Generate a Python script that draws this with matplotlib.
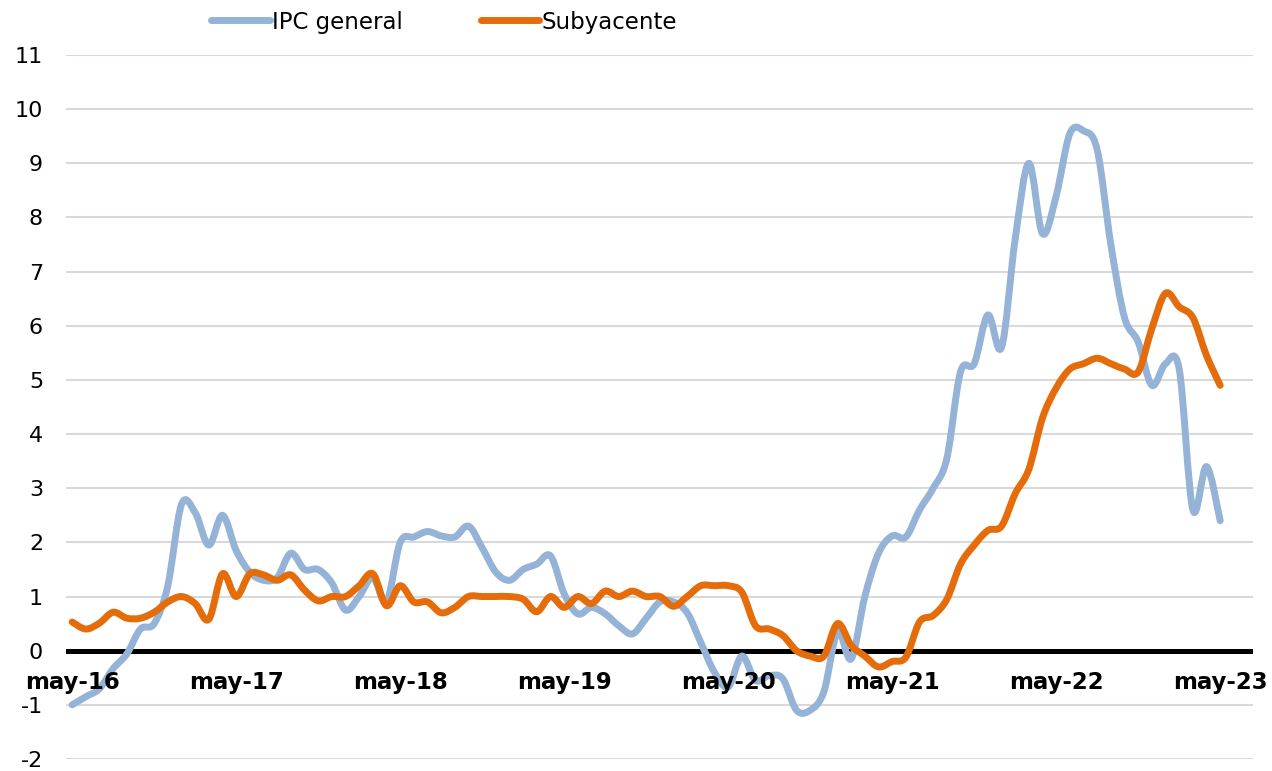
import matplotlib
matplotlib.use("Agg")
from matplotlib import pyplot as plt
from matplotlib.path import Path
from matplotlib.patches import PathPatch
from matplotlib.lines import Line2D

plt.rcParams["axes.unicode_minus"] = False

# monthly y/y rates, may-16 .. may-23
ipc_general = [-1.0, -0.85, -0.7, -0.33, -0.06, 0.4, 0.5, 1.2, 2.7, 2.55,
               1.95, 2.5, 1.85, 1.45, 1.3, 1.35, 1.8, 1.5, 1.5, 1.25,
               0.75, 1.0, 1.35, 0.9, 2.0, 2.1, 2.2, 2.12, 2.1, 2.3,
               1.9, 1.45, 1.3, 1.5, 1.6, 1.75, 1.05, 0.68, 0.8, 0.68,
               0.46, 0.31, 0.6, 0.9, 0.9, 0.7, 0.15, -0.4, -0.67, -0.1,
               -0.55, -0.46, -0.52, -1.1, -1.1, -0.76, 0.35, -0.15, 1.0, 1.8,
               2.12, 2.1, 2.6, 3.0, 3.55, 5.15, 5.3, 6.2, 5.6, 7.6,
               9.0, 7.7, 8.4, 9.55, 9.6, 9.25, 7.5, 6.15, 5.7, 4.9,
               5.3, 5.2, 2.6, 3.4, 2.4]
subyacente = [0.53, 0.4, 0.51, 0.71, 0.6, 0.6, 0.71, 0.9, 1.0, 0.87,
              0.58, 1.42, 1.0, 1.42, 1.4, 1.3, 1.4, 1.12, 0.92, 1.0,
              1.0, 1.2, 1.42, 0.83, 1.2, 0.9, 0.9, 0.7, 0.8, 1.0,
              1.0, 1.0, 1.0, 0.95, 0.72, 1.0, 0.8, 1.0, 0.87, 1.1,
              1.0, 1.1, 1.0, 1.0, 0.82, 1.0, 1.2, 1.2, 1.2, 1.08,
              0.46, 0.4, 0.28, 0.0, -0.1, -0.1, 0.5, 0.1, -0.1, -0.3,
              -0.2, -0.12, 0.53, 0.65, 0.95, 1.6, 1.95, 2.22, 2.3, 2.9,
              3.35, 4.3, 4.85, 5.2, 5.3, 5.4, 5.3, 5.2, 5.15, 5.95,
              6.6, 6.35, 6.15, 5.45, 4.9]
xlabels = ["may-16", "may-17", "may-18", "may-19", "may-20", "may-21", "may-22", "may-23"]

BLUE = "#95B3D7"
ORANGE = "#E46C0A"


def smooth_path(ys):
    # excel-like smoothed line: catmull-rom segments as cubic beziers
    pts = list(enumerate(ys))
    verts = [pts[0]]
    codes = [Path.MOVETO]
    n = len(pts)
    for i in range(n - 1):
        p0 = pts[max(i - 1, 0)]
        p1 = pts[i]
        p2 = pts[i + 1]
        p3 = pts[min(i + 2, n - 1)]
        c1 = (p1[0] + (p2[0] - p0[0]) / 6, p1[1] + (p2[1] - p0[1]) / 6)
        c2 = (p2[0] - (p3[0] - p1[0]) / 6, p2[1] - (p3[1] - p1[1]) / 6)
        verts += [c1, c2, p2]
        codes += [Path.CURVE4] * 3
    return Path(verts, codes)


fig = plt.figure(figsize=(12.72, 7.71), dpi=100)
ax = fig.add_axes([66 / 1272, 1 - 759 / 771, (1253 - 66) / 1272, (759 - 55) / 771])

ax.set_ylim(-2, 11)
ax.set_xlim(-0.45, 86.4)
ax.set_yticks(range(-2, 12))
ax.set_xticks([])
ax.yaxis.grid(True, color="#d9d9d9", lw=1.5)
ax.set_axisbelow(True)
for s in ax.spines.values():
    s.set_visible(False)
ax.tick_params(axis="y", length=0, pad=16.5, labelsize=16, labelcolor="black")

ax.axhline(0, color="black", lw=3.6, zorder=2)

for ys, c in [(ipc_general, BLUE), (subyacente, ORANGE)]:
    ax.add_patch(PathPatch(smooth_path(ys), fill=False, edgecolor=c, lw=5,
                           capstyle="round", joinstyle="round", zorder=3))

for k, lab in enumerate(xlabels):
    ax.text(k * 12, -0.58, lab, ha="center", va="center", fontsize=16.5,
            fontweight="bold", clip_on=False, zorder=4)

handles = [Line2D([], [], color=BLUE, lw=5, solid_capstyle="round"),
           Line2D([], [], color=ORANGE, lw=5, solid_capstyle="round")]
fig.legend(handles, ["IPC general", "Subyacente"], loc="center",
           bbox_to_anchor=(444 / 1272, 1 - 22 / 771), ncol=2, frameon=False,
           fontsize=16.5, handlelength=2.55, handletextpad=0.1, columnspacing=3.4)

fig.savefig("out.png", dpi=100)
